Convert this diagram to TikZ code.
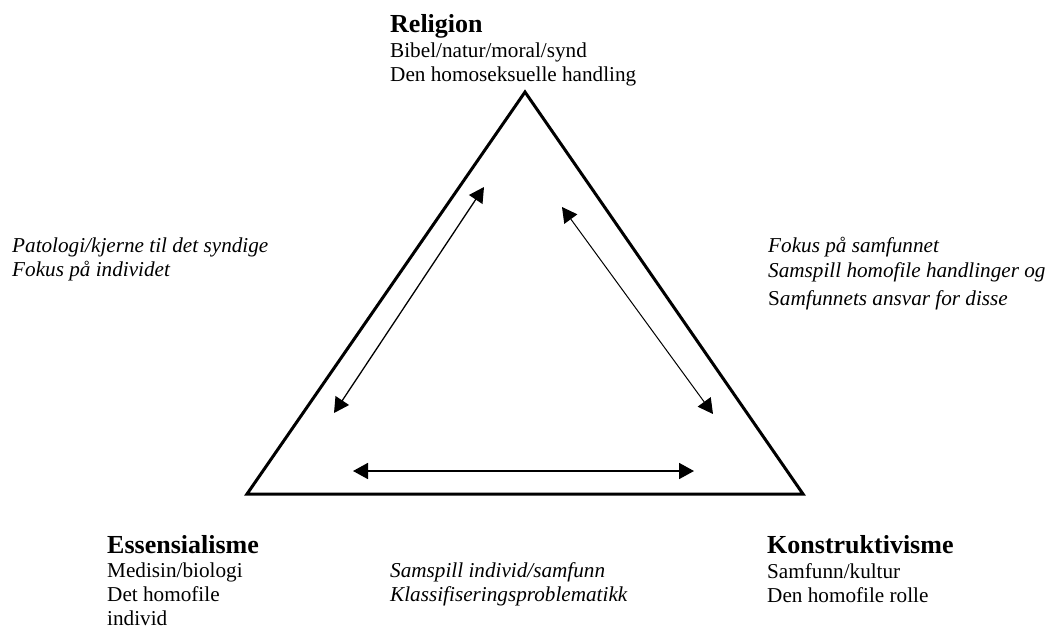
\documentclass[tikz,border=0pt]{standalone}
\usepackage{fontspec}
\setmainfont{Liberation Serif}
\usetikzlibrary{arrows.meta}

\tikzset{
  txt/.style={anchor=base west, inner sep=0pt, font=\fontsize{21.2}{24}\selectfont},
  note/.style={txt, font=\fontsize{21.2}{24}\selectfont\itshape},
  head/.style={txt, font=\fontsize{26}{30}\selectfont\bfseries},
  frame/.style={line width=3pt, line join=miter},
  link/.style={line width=1.3pt, {Triangle[length=15pt,width=16pt]}-{Triangle[length=15pt,width=16pt]}},
}

\begin{document}
\begin{tikzpicture}[x=1pt, y=-1pt]
  \useasboundingbox (0,0) rectangle (1050,630);

  % corners of the triangle
  \coordinate (top)   at (525,92);
  \coordinate (left)  at (247,494);
  \coordinate (right) at (803,494);
  \draw[frame] (top) -- (right) -- (left) -- cycle;

  % ends of the double arrows inside
  \coordinate (la) at (484,187);
  \coordinate (lb) at (334,413);
  \coordinate (ra) at (562,207);
  \coordinate (rb) at (713,414);
  \coordinate (ba) at (353,471);
  \coordinate (bb) at (694,471);
  \draw[link] (la) -- (lb);
  \draw[link, line width=1pt] (ra) -- (rb);
  \draw[link, line width=1.8pt] (ba) -- (bb);

  % Religion
  \node[head] (rel)  at (390,32) {Religion};
  \node[txt]  (rel1) at (390,57) {Bibel/natur/moral/synd};
  \node[txt]  (rel2) at (390,81) {Den homoseksuelle handling};

  % Essensialisme
  \node[head] (ess)  at (107,553) {Essensialisme};
  \node[txt]  (ess1) at (107,577) {Medisin/biologi};
  \node[txt]  (ess2) at (107,601) {Det homofile};
  \node[txt]  (ess3) at (107,625) {individ};

  % Konstruktivisme
  \node[head] (kon)  at (767,553) {Konstruktivisme};
  \node[txt]  (kon1) at (767,578) {Samfunn/kultur};
  \node[txt]  (kon2) at (767,602) {Den homofile rolle};

  % side notes
  \node[note] (pl1) at (12,252) {Patologi/kjerne til det syndige};
  \node[note] (pl2) at (12,276) {Fokus på individet};

  \node[note] (pr1) at (768,252) {Fokus på samfunnet};
  \node[note] (pr2) at (768,277) {Samspill homofile handlinger og};
  \node[note] (pr3) at (768,305) {{\upshape S}amfunnets ansvar for disse};

  \node[note] (pb1) at (390,577) {Samspill individ/samfunn};
  \node[note] (pb2) at (390,601) {Klassifiseringsproblematikk};
\end{tikzpicture}
\end{document}
